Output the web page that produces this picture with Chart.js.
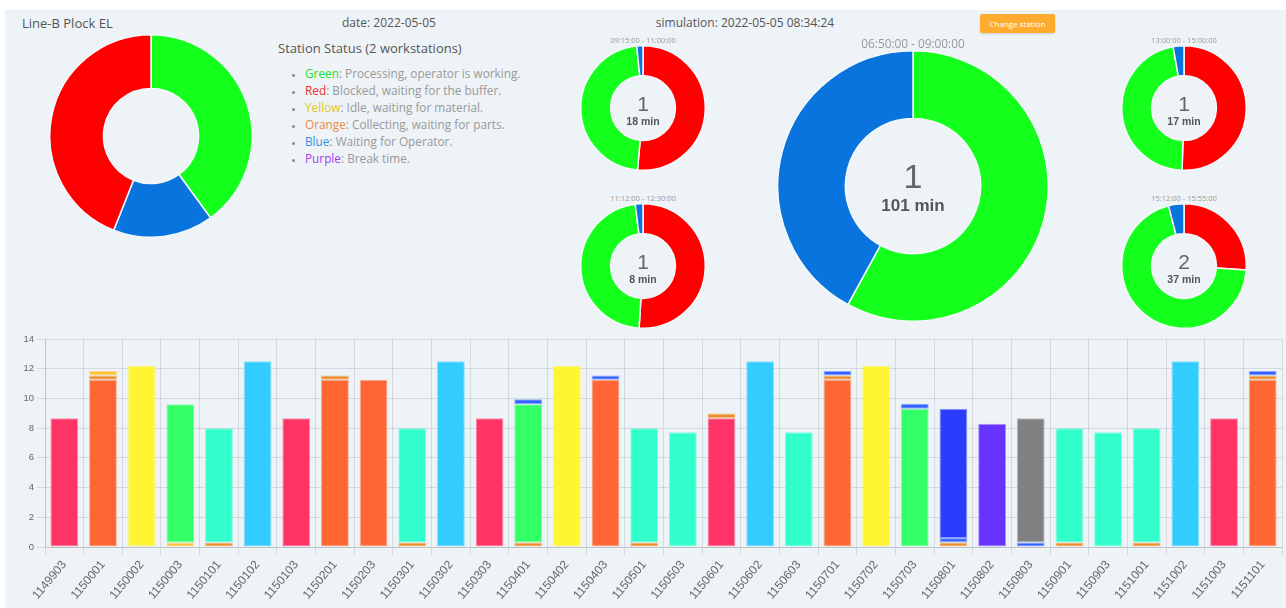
<!DOCTYPE html>
<html>
<head>
<meta charset="utf-8">
<script src="https://cdn.jsdelivr.net/npm/chart.js"></script>
<style>
  body { margin: 0; background: #fff; font-family: "Open Sans", sans-serif; }
  #panel { position: absolute; left: 5px; top: 10px; width: 1281px; height: 598px; background: #edf3f7; }
  .abs { position: absolute; }
  .title { left: 22px; top: 14px; font-size: 13px; color: #555; }
  .center-txt { text-align: center; color: #555; font-size: 12px; }
  #status { left: 278px; top: 39px; font-size: 13px; color: #555; }
  #status ul { margin: 8px 0 0 0; padding-left: 27px; color: #999; font-size: 11.8px; line-height: 17px; }
  #status li::marker { color: #888; font-size: 9px; }
  .btn { left: 980px; top: 14px; width: 75px; height: 19px; background: #ffab2e; color: #fff; font-size: 8px;
         line-height: 19px; text-align: center; border-radius: 2px; box-shadow: 0 1px 2px rgba(0,0,0,0.15); }
  .range { text-align: center; color: #999; font-size: 7.5px; width: 140px; }
  .hole { text-align: center; font-family: "Liberation Sans", Arial, sans-serif; color: #666; }
  .hole .n { font-size: 21px; line-height: 22px; }
  .hole .m { font-size: 10.5px; font-weight: bold; color: #555; }
  canvas { position: absolute; }
</style>
</head>
<body>
<div id="panel"></div>
<div class="abs title">Line-B Plock EL</div>
<div class="abs center-txt" style="left:309px;top:14px;width:160px;">date: 2022-05-05</div>
<div class="abs center-txt" style="left:645px;top:14px;width:200px;">simulation: 2022-05-05 08:34:24</div>
<div class="abs btn">Change station</div>
<div class="abs" id="status">Station Status (2 workstations)
  <ul>
    <li><span style="color:#1fe01f">Green</span>: Processing, operator is working.</li>
    <li><span style="color:#f02c2c">Red</span>: Blocked, waiting for the buffer.</li>
    <li><span style="color:#e5c51c">Yellow</span>: Idle, waiting for material.</li>
    <li><span style="color:#ee8a3c">Orange</span>: Collecting, waiting for parts.</li>
    <li><span style="color:#3a8ee6">Blue</span>: Waiting for Operator.</li>
    <li><span style="color:#a23ff0">Purple</span>: Break time.</li>
  </ul>
</div>

<canvas id="total" width="204" height="204" style="left:49px;top:34px;"></canvas>
<canvas id="main" width="272" height="272" style="left:777px;top:50px;"></canvas>
<div class="abs range" id="mainRange" style="left:843px;top:35px;width:140px;font-size:11.8px;color:#999;"></div>
<div class="abs hole" style="left:853px;top:158px;width:120px;">
  <div style="font-size:34px;line-height:36px;">1</div>
  <div style="font-size:17px;font-weight:bold;color:#555;margin-top:2px;">101 min</div>
</div>
<div id="smalls"></div>

<canvas id="bars" width="1281" height="270" style="left:5px;top:330px;"></canvas>

<script>
// station states, in minutes per shift
const totalStates = ['green', 'blue', 'red'];
const totalValues = [40, 16, 44];

const mainRange = '06:50:00 - 09:00:00';
const mainStates = ['green', 'blue'];
const mainValues = [58, 42];

const slotRanges = ['09:15:00 - 11:00:00', '11:12:00 - 12:30:00', '13:00:00 - 15:00:00', '15:12:00 - 15:55:00'];
const slotCounts = [1, 1, 1, 2];
const slotMinutes = [18, 8, 17, 37];
const slotRed = [51.4, 51, 50.5, 26];
const slotGreen = [47, 47, 46.7, 70];
const slotBlue = [1.6, 2, 2.8, 4];

// work orders and stacked time segments
const orders = ['1149903', '1150001', '1150002', '1150003', '1150101', '1150102', '1150103', '1150201',
  '1150203', '1150301', '1150302', '1150303', '1150401', '1150402', '1150403', '1150501', '1150503',
  '1150601', '1150602', '1150603', '1150701', '1150702', '1150703', '1150801', '1150802', '1150803',
  '1150901', '1150903', '1151001', '1151002', '1151003', '1151101'];

const seg1Values = [8.67, 11.25, 12.2, 0.3, 0.3, 12.5, 8.67, 11.25, 11.25, 0.3, 12.5, 8.67, 0.3, 12.2, 11.25, 0.3,
  7.72, 8.67, 12.5, 7.72, 11.25, 12.2, 9.3, 0.3, 8.3, 0.3, 0.3, 7.72, 0.3, 12.5, 8.67, 11.25];
const seg1Kinds = ['pink', 'orange', 'yellow', 'gold', 'amber', 'sky', 'pink', 'orange', 'orange', 'amber', 'sky', 'pink',
  'amber', 'yellow', 'orange', 'amber', 'teal', 'pink', 'sky', 'teal', 'orange', 'yellow', 'green', 'amber', 'purple',
  'blue', 'amber', 'teal', 'amber', 'sky', 'pink', 'orange'];

const seg2Values = [0, 0.3, 0, 9.3, 7.7, 0, 0, 0.3, 0, 7.7, 0, 0, 9.3, 0, 0.3, 7.7,
  0, 0.3, 0, 0, 0.3, 0, 0.35, 0.3, 0, 8.37, 7.7, 0, 7.7, 0, 0, 0.3];
const seg2Kinds = ['', 'amber', '', 'green', 'teal', '', '', 'amber', '', 'teal', '', '', 'green', '', 'blue', 'teal',
  '', 'amber', '', '', 'amber', '', 'blue', 'lightblue', '', 'gray', 'teal', '', 'teal', '', '', 'amber'];

const seg3Values = [0, 0.3, 0, 0, 0, 0, 0, 0, 0, 0, 0, 0, 0.35, 0, 0, 0,
  0, 0.05, 0, 0, 0.3, 0, 0, 8.7, 0, 0, 0, 0, 0, 0, 0, 0.3];
const seg3Kinds = ['', 'gold', '', '', '', '', '', '', '', '', '', '', 'blue', '', '', '',
  '', 'gold', '', '', 'blue', '', '', 'royal', '', '', '', '', '', '', '', 'blue'];

const ringColors = { green: '#14ff1c', red: '#ff0000', blue: '#0a74de' };
const barColors = {
  pink: '#ff3366', orange: '#ff6633', yellow: '#fff533', gold: '#ffc233', amber: '#f08a24',
  green: '#33ff66', teal: '#33ffcc', sky: '#33ccff', blue: '#3060ff', lightblue: '#3d6bff',
  royal: '#2a3dff', purple: '#6633ff', gray: '#808080'
};

document.getElementById('mainRange').textContent = mainRange;

function ring(canvas, states, values, cutout) {
  return new Chart(canvas, {
    type: 'doughnut',
    data: {
      labels: states,
      datasets: [{
        data: values,
        backgroundColor: states.map(s => ringColors[s]),
        borderColor: '#f4f8fb',
        borderWidth: 1.5
      }]
    },
    options: {
      responsive: false,
      animation: false,
      cutout: cutout,
      plugins: { legend: { display: false }, tooltip: { enabled: false } }
    }
  });
}

ring(document.getElementById('total'), totalStates, totalValues, '47%');
ring(document.getElementById('main'), mainStates, mainValues, '50%');

// four shift slots around the main ring
const slotPos = [[643, 108], [643, 266], [1184, 108], [1184, 266]];
const smalls = document.getElementById('smalls');
slotRanges.forEach((range, i) => {
  const [cx, cy] = slotPos[i];
  const c = document.createElement('canvas');
  c.width = 126; c.height = 126;
  c.style.left = (cx - 63) + 'px';
  c.style.top = (cy - 63) + 'px';
  smalls.appendChild(c);

  const lbl = document.createElement('div');
  lbl.className = 'abs range';
  lbl.style.left = (cx - 70) + 'px';
  lbl.style.top = (cy - 73) + 'px';
  lbl.textContent = range;
  smalls.appendChild(lbl);

  const hole = document.createElement('div');
  hole.className = 'abs hole';
  hole.style.left = (cx - 40) + 'px';
  hole.style.top = (cy - 15) + 'px';
  hole.style.width = '80px';
  hole.innerHTML = '<div class="n">' + slotCounts[i] + '</div><div class="m">' + slotMinutes[i] + ' min</div>';
  smalls.appendChild(hole);

  ring(c, ['red', 'green', 'blue'], [slotRed[i], slotGreen[i], slotBlue[i]], '52%');
});

function layer(values, kinds) {
  return {
    data: values,
    backgroundColor: kinds.map(k => barColors[k] || 'transparent'),
    borderColor: kinds.map(k => (barColors[k] || '#ffffff') + '80'),
    borderWidth: 1,
    borderSkipped: false
  };
}

new Chart(document.getElementById('bars'), {
  type: 'bar',
  data: {
    labels: orders,
    datasets: [layer(seg1Values, seg1Kinds), layer(seg2Values, seg2Kinds), layer(seg3Values, seg3Kinds)]
  },
  options: {
    responsive: false,
    animation: false,
    layout: { padding: { top: 9, right: 4, left: 0, bottom: 0 } },
    plugins: { legend: { display: false }, tooltip: { enabled: false } },
    scales: {
      x: {
        stacked: true,
        ticks: { color: '#666', font: { size: 12 }, minRotation: 50, maxRotation: 50 },
        afterFit: s => { s.height = 53; }
      },
      y: {
        stacked: true,
        min: 0, max: 14,
        ticks: { stepSize: 2, color: '#666', font: { size: 9.5 } },
        afterFit: s => { s.width = 40; }
      }
    }
  }
});
</script>
</body>
</html>
